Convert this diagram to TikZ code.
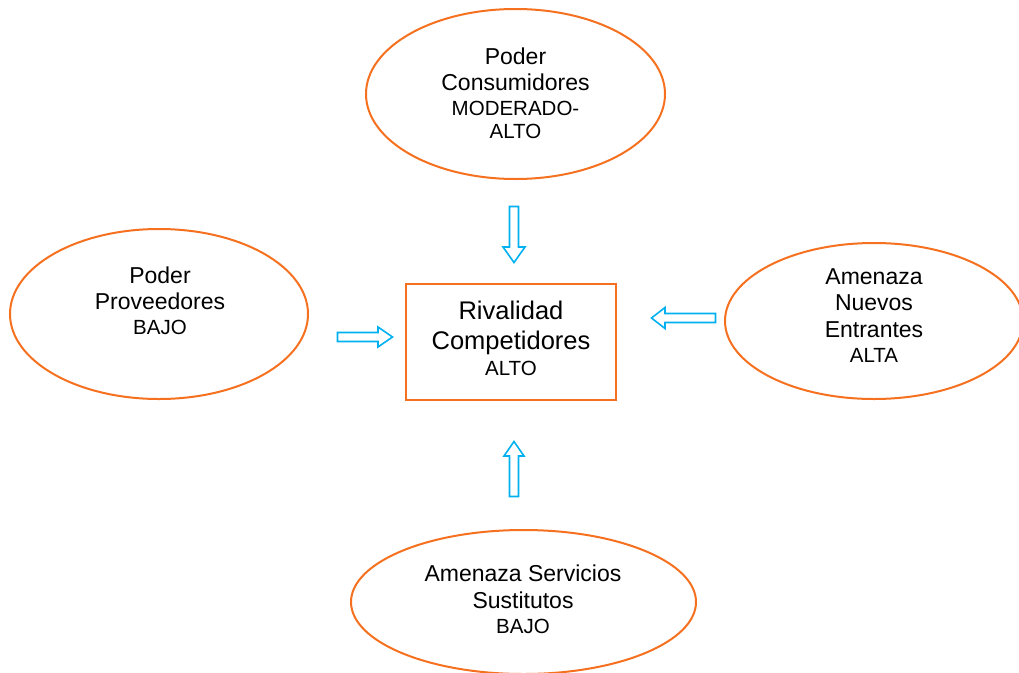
\documentclass[tikz,border=0pt]{standalone}
\usepackage{fontspec}
\setmainfont{Liberation Sans}
\usetikzlibrary{shapes.geometric}
\definecolor{forceorange}{RGB}{245,113,32}
\definecolor{arrowblue}{RGB}{0,176,240}
\newcommand{\bigtxt}{\fontsize{23}{26.5}\selectfont}
\newcommand{\smalltxt}{\fontsize{20.5}{23}\selectfont}
\tikzset{
  force/.style={ellipse, draw=forceorange, line width=2pt, fill=white, inner sep=0pt},
  centerbox/.style={rectangle, draw=forceorange, line width=2pt, fill=white, inner sep=0pt},
  label text/.style={align=center, font=\bigtxt, text=black, inner sep=0pt},
  blockarrow/.style={draw=arrowblue, line width=1.6pt, fill=white, line join=miter}
}
\begin{document}
\begin{tikzpicture}[x=1pt, y=-1pt]
  \useasboundingbox (0,0) rectangle (1019,672);

  % five forces
  \node[force, minimum width=299pt, minimum height=170pt] (cons) at (515.5,94) {};
  \node[force, minimum width=298pt, minimum height=170pt] (prov) at (159,314) {};
  \node[force, minimum width=298pt, minimum height=156pt] (entr) at (874,321) {};
  \node[force, minimum width=345pt, minimum height=144pt] (sust) at (523.5,602) {};
  \node[centerbox, minimum width=210pt, minimum height=116pt] (riv) at (511,342) {};

  % texts
  \node[label text] (tcons) at (515.5,93.5)
    {Poder\\Consumidores\\[-1.5pt]{\smalltxt MODERADO-}\\[-3.5pt]{\smalltxt ALTO}};
  \node[label text] (tprov) at (160,301)
    {Poder\\Proveedores\\[-1.5pt]{\smalltxt BAJO}};
  \node[label text] (tentr) at (874,315.5)
    {Amenaza\\Nuevos\\Entrantes\\[-1.5pt]{\smalltxt ALTA}};
  \node[label text] (tsust) at (523,599.5)
    {Amenaza Servicios\\Sustitutos\\[-1.5pt]{\smalltxt BAJO}};
  \node[label text, font=\fontsize{25.5}{30}\selectfont] (triv) at (511,338)
    {Rivalidad\\Competidores\\[-4pt]{\smalltxt ALTO}};

  % block arrows towards the rivalry box
  \draw[blockarrow] (509.5,206.5) -- (518.5,206.5) -- (518.5,247) -- (525,247)
    -- (514,262.5) -- (503,247) -- (509.5,247) -- cycle;
  \draw[blockarrow] (509.5,496.5) -- (518.5,496.5) -- (518.5,456) -- (524,456)
    -- (514,441.5) -- (504,456) -- (509.5,456) -- cycle;
  \draw[blockarrow] (337.5,332.5) -- (337.5,341.5) -- (378,341.5) -- (378,347)
    -- (392.5,337) -- (378,327) -- (378,332.5) -- cycle;
  \draw[blockarrow] (715.5,313.5) -- (715.5,322.5) -- (665,322.5) -- (665,328.5)
    -- (651.5,318) -- (665,307.5) -- (665,313.5) -- cycle;
\end{tikzpicture}
\end{document}
